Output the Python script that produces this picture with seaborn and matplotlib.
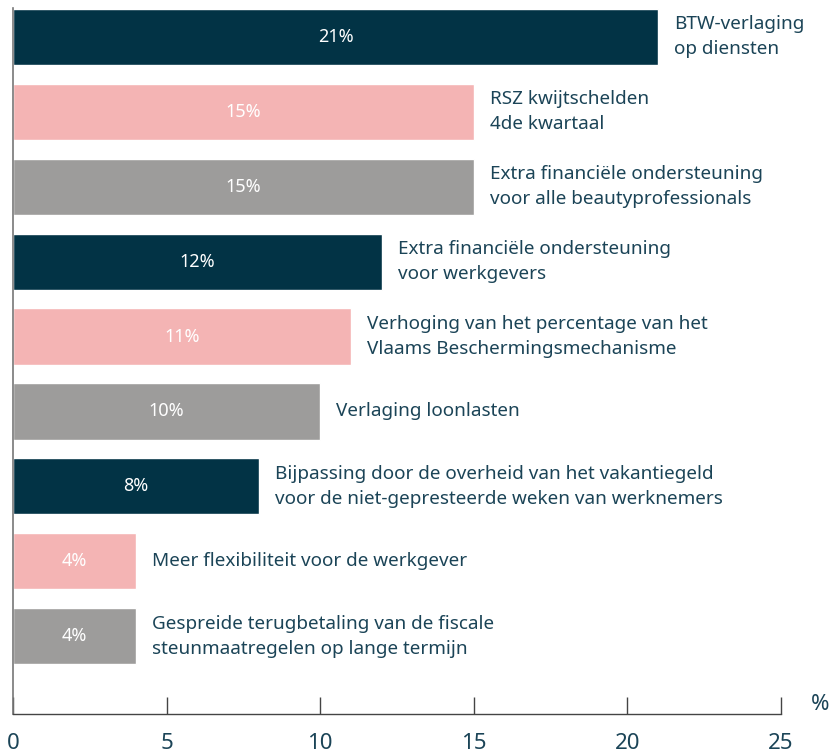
import matplotlib
matplotlib.use("Agg")
import matplotlib.pyplot as plt
import seaborn as sns
import pandas as pd

categories = [
    "BTW-verlaging\nop diensten",
    "RSZ kwijtschelden\n4de kwartaal",
    "Extra financiële ondersteuning\nvoor alle beautyprofessionals",
    "Extra financiële ondersteuning\nvoor werkgevers",
    "Verhoging van het percentage van het\nVlaams Beschermingsmechanisme",
    "Verlaging loonlasten",
    "Bijpassing door de overheid van het vakantiegeld\nvoor de niet-gepresteerde weken van werknemers",
    "Meer flexibiliteit voor de werkgever",
    "Gespreide terugbetaling van de fiscale\nsteunmaatregelen op lange termijn",
]
values = [21, 15, 15, 12, 11, 10, 8, 4, 4]
value_labels = ["21%", "15%", "15%", "12%", "11%", "10%", "8%", "4%", "4%"]
colors = ["#023345", "#F4B4B4", "#9D9C9B", "#023345", "#F4B4B4", "#9D9C9B",
          "#023345", "#F4B4B4", "#9D9C9B"]
x_ticks = [0, 5, 10, 15, 20, 25]

sns.set_theme(style="white")
plt.rcParams["font.family"] = ["Noto Sans", "DejaVu Sans"]

text_color = "#1B4457"

df = pd.DataFrame({"cat": categories, "val": values})

fig = plt.figure(figsize=(8.31, 7.55), dpi=100)
ax = fig.add_axes([13 / 831, 1 - 714 / 755, 768 / 831, (714 - 8) / 755])

sns.barplot(data=df, x="val", y="cat", hue="cat", palette=colors,
            order=categories, hue_order=categories, width=0.75,
            legend=False, ax=ax, saturation=1)

ax.set_xlim(0, 25)
ax.set_ylim(9.04, -0.387)
ax.set_xlabel("")
ax.set_ylabel("")
ax.set_yticks([])
ax.set_xticks(x_ticks)
ax.set_xticklabels([str(t) for t in x_ticks], fontsize=16, color=text_color,
                   fontweight="light")
ax.tick_params(axis="x", direction="in", length=12, width=1, color="#444444",
               pad=14, bottom=True)

for s in ["top", "right"]:
    ax.spines[s].set_visible(False)
ax.spines["left"].set_color("#777777")
ax.spines["left"].set_linewidth(1.2)
ax.spines["bottom"].set_color("#444444")
ax.spines["bottom"].set_linewidth(1)

for i, (v, lab, cat) in enumerate(zip(values, value_labels, categories)):
    ax.text(v / 2, i, lab, ha="center", va="center", color="white",
            fontsize=13, fontweight="light")
    ax.annotate(cat, xy=(v, i), xytext=(11.5, 0), textcoords="offset points",
                ha="left", va="center", fontsize=13.6, color=text_color,
                linespacing=1.5)

fig.text(820 / 831, 1 - 705 / 755, "%", fontsize=16, color=text_color,
         ha="center", va="center", fontweight="light")

fig.savefig("out.png", dpi=100)
